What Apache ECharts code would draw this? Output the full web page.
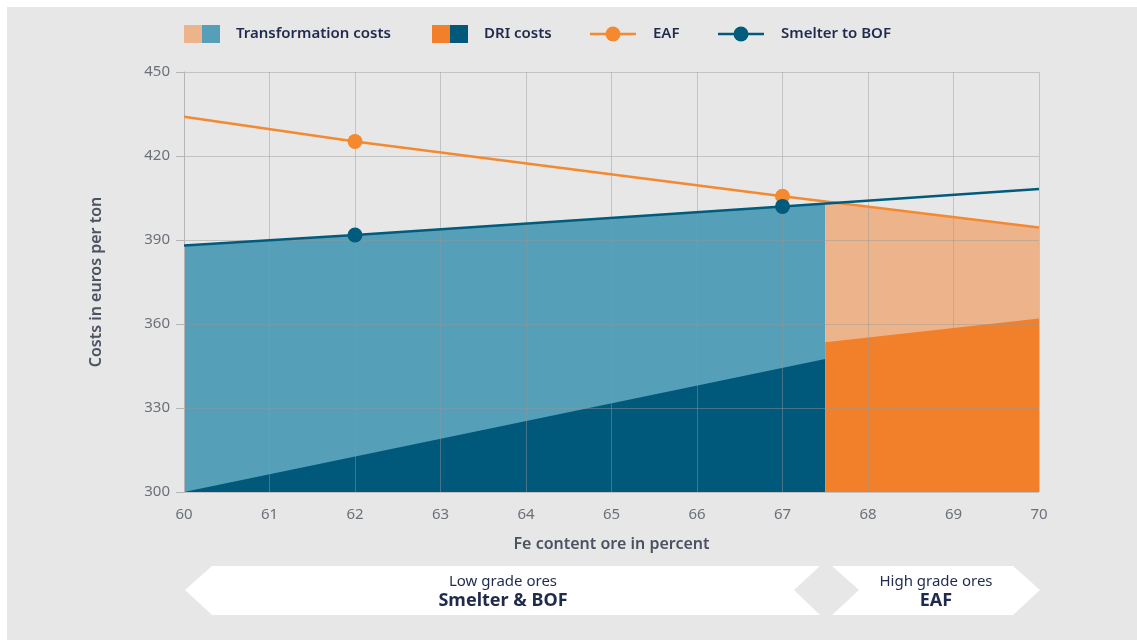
<!DOCTYPE html>
<html>
<head>
<meta charset="utf-8">
<script src="https://cdn.jsdelivr.net/npm/echarts@6/dist/echarts.min.js"></script>
<style>
  html, body { margin: 0; padding: 0; background: #ffffff; }
  #chart { width: 1137px; height: 641px; }
</style>
</head>
<body>
<div id="chart"></div>
<script>
// Fe content (x) where the cost lines are read
const feX = [60, 62, 67, 70];
const eafCost = [434, 425.2, 405.6, 394.5];
const smelterCost = [388, 391.8, 402, 408.2];
const markerX = [62, 67];

// stacked cost areas, split at 67.5 % Fe
const smelterX = [60, 62, 67, 67.5];
const smelterTotal = [388, 391.8, 402, 403.1];
const smelterDriX = [60, 67.5];
const smelterDri = [300, 347.5];
const eafX = [67.5, 70];
const eafTotal = [403.4, 394.5];
const eafDri = [353.5, 362];

const yTicks = [300, 330, 360, 390, 420, 450];

const C = {
  lightOrange: "#edb48b",
  orange: "#f2802a",
  lightBlue: "#559fb8",
  darkBlue: "#00587a",
  eafLine: "#f4892f",
  bofLine: "#005b7d",
  text: "#6b7079",
  navy: "#1f2a4d",
};

const pairs = (xs, ys) => xs.map((x, i) => [x, ys[i]]);
const linePts = (ys) =>
  feX.map((x, i) => ({
    value: [x, ys[i]],
    symbolSize: markerX.includes(x) ? 15 : 0,
  }));

const areaSeries = (name, data, color) => ({
  name,
  type: "line",
  data,
  symbol: "none",
  lineStyle: { width: 0 },
  areaStyle: { color, opacity: 1, origin: "start" },
  z: 1,
  silent: true,
});

const font = "'Noto Sans', sans-serif";

const chart = echarts.init(document.getElementById("chart"));
const option = {
  animation: false,
  backgroundColor: "#ffffff",
  grid: { left: 184, right: 98, top: 72, bottom: 149 },
  xAxis: {
    type: "value",
    min: 60,
    max: 70,
    interval: 1,
    z: 3,
    name: "Fe content ore in percent",
    nameLocation: "middle",
    nameGap: 44,
    nameTextStyle: { color: "#4b5261", fontSize: 16, fontWeight: 600, fontFamily: font },
    axisLine: { show: false },
    axisTick: { show: false },
    axisLabel: { color: C.text, fontSize: 15, fontFamily: font, margin: 15 },
    splitLine: { lineStyle: { color: "rgba(150,150,150,0.45)", width: 1 } },
  },
  yAxis: {
    type: "value",
    min: yTicks[0],
    max: yTicks[yTicks.length - 1],
    interval: 30,
    z: 3,
    name: "Costs in euros per ton",
    nameLocation: "middle",
    nameGap: 80,
    nameTextStyle: { color: "#4b5261", fontSize: 16, fontWeight: 600, fontFamily: font },
    axisLine: { show: true, lineStyle: { color: "#b5b5b5" } },
    axisTick: { show: true, length: 8, lineStyle: { color: "#b5b5b5" } },
    axisLabel: { color: C.text, fontSize: 15, fontFamily: font, margin: 14 },
    splitLine: { lineStyle: { color: "rgba(150,150,150,0.45)", width: 1 } },
  },
  series: [
    areaSeries("Transformation costs (Smelter)", pairs(smelterX, smelterTotal), C.lightBlue),
    areaSeries("DRI costs (Smelter)", pairs(smelterDriX, smelterDri), C.darkBlue),
    areaSeries("Transformation costs (EAF)", pairs(eafX, eafTotal), C.lightOrange),
    areaSeries("DRI costs (EAF)", pairs(eafX, eafDri), C.orange),
    {
      name: "EAF",
      type: "line",
      data: linePts(eafCost),
      symbol: "circle",
      itemStyle: { color: C.eafLine },
      lineStyle: { color: C.eafLine, width: 2.5 },
      z: 5,
    },
    {
      name: "Smelter to BOF",
      type: "line",
      data: linePts(smelterCost),
      symbol: "circle",
      itemStyle: { color: C.bofLine },
      lineStyle: { color: C.bofLine, width: 2.5 },
      z: 5,
    },
  ],
  graphic: [],
};

// legend + background panel + bottom banners
const legendText = (x, text) => ({
  type: "text",
  x,
  y: 34,
  style: { text, font: "600 15px " + font, fill: C.navy, verticalAlign: "middle" },
  z: 10,
});
const legendLine = (x, color) => [
  { type: "line", shape: { x1: x, y1: 34, x2: x + 46, y2: 34 }, style: { stroke: color, lineWidth: 2.5 }, z: 10 },
  { type: "circle", shape: { cx: x + 23, cy: 34, r: 7.5 }, style: { fill: color }, z: 10 },
];
const bannerText = (cx, top, bottom) => [
  { type: "text", x: cx, y: 582, style: { text: top, font: "15px " + font, fill: C.navy, align: "center", verticalAlign: "middle" }, z: 10 },
  { type: "text", x: cx, y: 601, style: { text: bottom, font: "bold 18px " + font, fill: C.navy, align: "center", verticalAlign: "middle" }, z: 10 },
];

option.graphic = [
  { type: "rect", shape: { x: 7, y: 7, width: 1130, height: 633 }, style: { fill: "#e7e7e7" }, z: -10 },
  { type: "rect", shape: { x: 184, y: 25, width: 18, height: 18 }, style: { fill: C.lightOrange }, z: 10 },
  { type: "rect", shape: { x: 202, y: 25, width: 18, height: 18 }, style: { fill: C.lightBlue }, z: 10 },
  legendText(236, "Transformation costs"),
  { type: "rect", shape: { x: 432, y: 25, width: 18, height: 18 }, style: { fill: C.orange }, z: 10 },
  { type: "rect", shape: { x: 450, y: 25, width: 18, height: 18 }, style: { fill: C.darkBlue }, z: 10 },
  legendText(484, "DRI costs"),
  ...legendLine(590, C.eafLine),
  legendText(653, "EAF"),
  ...legendLine(718, C.bofLine),
  legendText(781, "Smelter to BOF"),
  {
    type: "polygon",
    shape: { points: [[185, 590], [212, 566], [820, 566], [794, 590], [820, 615], [212, 615]] },
    style: { fill: "#ffffff" },
    z: 5,
  },
  {
    type: "polygon",
    shape: { points: [[832, 566], [1013, 566], [1040, 590], [1013, 615], [832, 615], [859, 590]] },
    style: { fill: "#ffffff" },
    z: 5,
  },
  ...bannerText(503, "Low grade ores", "Smelter & BOF"),
  ...bannerText(936, "High grade ores", "EAF"),
];

chart.setOption(option);
</script>
</body>
</html>
